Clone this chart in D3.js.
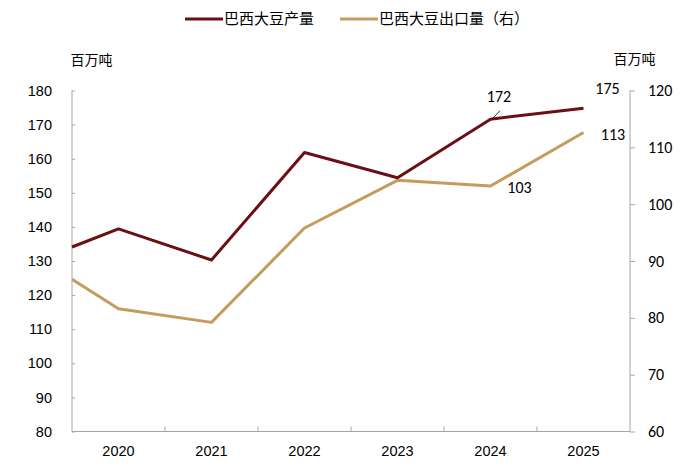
<!DOCTYPE html>
<html>
<head>
<meta charset="utf-8">
<script src="https://cdn.jsdelivr.net/npm/d3@7/dist/d3.min.js"></script>
<style>
  body { margin: 0; background: #fff; }
  svg { display: block; }
  .cn { font-family: "Noto Sans CJK SC", sans-serif; }
</style>
</head>
<body>
<svg id="chart" width="700" height="471"></svg>
<script>
// data
var years = ["2020", "2021", "2022", "2023", "2024", "2025"];
var production = [139.4, 130.3, 161.8, 154.4, 171.6, 174.8];   // left axis
var exports = [81.6, 79.2, 95.8, 104.2, 103.2, 112.6];          // right axis
// value where each line meets the left edge of the plot
var productionEdge = 134.1;
var exportsEdge = 86.8;
var leftTicks = [80, 90, 100, 110, 120, 130, 140, 150, 160, 170, 180];
var rightTicks = [60, 70, 80, 90, 100, 110, 120];
var seriesNames = ["巴西大豆产量", "巴西大豆出口量（右）"];
var unit = "百万吨";

var darkRed = "#6b0f15";
var gold = "#c59b5e";
var axisGray = "#a6a6a6";

var svg = d3.select("#chart");
var margin = {top: 90.5, right: 70, bottom: 39.5, left: 72};
var width = 700 - margin.left - margin.right;
var height = 471 - margin.top - margin.bottom;

var g = svg.append("g").attr("transform", "translate(" + margin.left + "," + margin.top + ")");

var x = d3.scaleBand().domain(years).range([0, width]).paddingInner(0).paddingOuter(0);
var yL = d3.scaleLinear().domain([80, 180]).range([height, 0]);
var yR = d3.scaleLinear().domain([60, 120]).range([height, 0]);

function cx(d) { return x(d) + x.bandwidth() / 2; }

// left axis
var leftAxis = g.append("g")
  .call(d3.axisLeft(yL).tickValues(leftTicks).tickSize(-3).tickPadding(20));
leftAxis.select(".domain").attr("stroke", axisGray).attr("d", "M0,0V" + height);
leftAxis.selectAll(".tick line").attr("stroke", axisGray);
leftAxis.selectAll("text")
  .style("font-family", "Liberation Sans, Arial, sans-serif")
  .style("font-size", "14.5px")
  .attr("fill", "#000");

// right axis
var rightAxis = g.append("g")
  .attr("transform", "translate(" + width + ",0)")
  .call(d3.axisRight(yR).tickValues(rightTicks).tickSize(5).tickPadding(13));
rightAxis.select(".domain").attr("stroke", axisGray).attr("d", "M0,0V" + height);
rightAxis.selectAll(".tick line").attr("stroke", axisGray);
rightAxis.selectAll("text")
  .style("font-family", "Carlito, Calibri, 'Open Sans', sans-serif")
  .style("font-size", "16px")
  .attr("fill", "#000");

// bottom axis: ticks sit between the years
var bottom = g.append("g").attr("transform", "translate(0," + height + ")");
bottom.append("line")
  .attr("x1", 0).attr("x2", width)
  .attr("stroke", axisGray);
bottom.selectAll(".sep")
  .data(years.slice(1))
  .enter().append("line")
  .attr("x1", function(d) { return x(d); })
  .attr("x2", function(d) { return x(d); })
  .attr("y1", 0).attr("y2", -5)
  .attr("stroke", axisGray);
bottom.selectAll(".yr")
  .data(years)
  .enter().append("text")
  .attr("x", cx)
  .attr("y", 24)
  .attr("text-anchor", "middle")
  .style("font-family", "Liberation Sans, Arial, sans-serif")
  .style("font-size", "14.5px")
  .text(function(d) { return d; });

// lines
function linePoints(edge, vals, scale) {
  var pts = [[0, scale(edge)]];
  vals.forEach(function(v, i) { pts.push([cx(years[i]), scale(v)]); });
  return pts;
}

var line = d3.line();

g.append("path")
  .attr("d", line(linePoints(exportsEdge, exports, yR)))
  .attr("fill", "none")
  .attr("stroke", gold)
  .attr("stroke-width", 3)
  .attr("stroke-linejoin", "round");

g.append("path")
  .attr("d", line(linePoints(productionEdge, production, yL)))
  .attr("fill", "none")
  .attr("stroke", darkRed)
  .attr("stroke-width", 3)
  .attr("stroke-linejoin", "round");

// data labels
var labelFont = "Carlito, Calibri, 'Open Sans', sans-serif";
function addLabel(xp, yp, txt) {
  g.append("text")
    .attr("x", xp).attr("y", yp)
    .attr("text-anchor", "middle")
    .attr("dy", "0.35em")
    .style("font-family", labelFont)
    .style("font-size", "16px")
    .attr("fill", "#000")
    .text(txt);
}
var i24 = 4, i25 = 5;
addLabel(cx(years[i24]) + 8.5, yL(production[i24]) - 22.5, Math.round(production[i24]));
g.append("line")
  .attr("x1", cx(years[i24]) + 1.5).attr("y1", yL(production[i24]))
  .attr("x2", cx(years[i24]) + 9.5).attr("y2", yL(production[i24]) - 8.5)
  .attr("stroke", "#000").attr("stroke-width", 0.8);
addLabel(cx(years[i25]) + 24, yL(production[i25]) - 20, Math.round(production[i25]));
addLabel(cx(years[i25]) + 29.5, yR(exports[i25]) + 1.5, Math.round(exports[i25]));
addLabel(cx(years[i24]) + 29, yR(exports[i24]) + 1, Math.round(exports[i24]));

// unit titles
svg.append("text").attr("class", "cn")
  .attr("x", 91.5).attr("y", 60.5).attr("dy", "0.35em")
  .attr("text-anchor", "middle")
  .style("font-size", "14px")
  .text(unit);
svg.append("text").attr("class", "cn")
  .attr("x", 634.5).attr("y", 59).attr("dy", "0.35em")
  .attr("text-anchor", "middle")
  .style("font-size", "14px")
  .text(unit);

// legend
var legend = svg.append("g").attr("transform", "translate(185,19)");
var legendItems = [
  {name: seriesNames[0], color: darkRed, x: 0},
  {name: seriesNames[1], color: gold, x: 155}
];
var li = legend.selectAll(".item")
  .data(legendItems)
  .enter().append("g")
  .attr("transform", function(d) { return "translate(" + d.x + ",0)"; });
li.append("line")
  .attr("x1", 0).attr("x2", 38)
  .attr("stroke", function(d) { return d.color; })
  .attr("stroke-width", 3);
li.append("text").attr("class", "cn")
  .attr("x", 39).attr("dy", "0.35em")
  .style("font-size", "15px")
  .text(function(d) { return d.name; });
</script>
</body>
</html>
